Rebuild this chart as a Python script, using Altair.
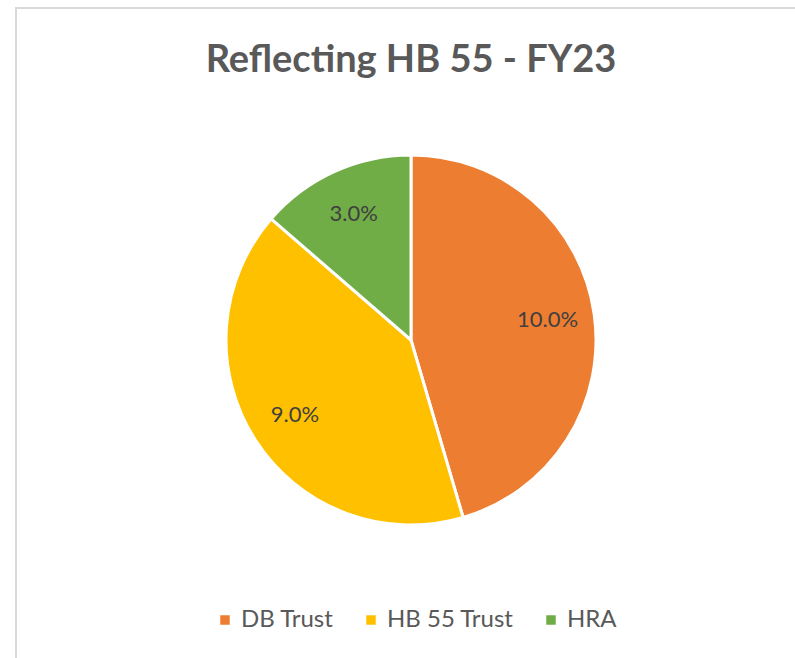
import altair as alt
import pandas as pd

categories = ["DB Trust", "HB 55 Trust", "HRA"]
values = [10.0, 9.0, 3.0]
labels = ["10.0%", "9.0%", "3.0%"]
colors = ["#ED7D31", "#FFC000", "#70AD47"]
title_text = "Reflecting HB 55 - FY23"

df = pd.DataFrame({
    "category": categories,
    "value": values,
    "label": labels,
    "order": list(range(len(categories))),
})

cx, cy = 411, 340

base = alt.Chart(df).encode(
    theta=alt.Theta("value:Q", stack=True),
    order=alt.Order("order:Q"),
    x=alt.value(cx),
    y=alt.value(cy),
)

arcs = base.mark_arc(outerRadius=185, stroke="white", strokeWidth=3).encode(
    color=alt.Color(
        "category:N",
        scale=alt.Scale(domain=categories, range=colors),
        sort=categories,
        legend=alt.Legend(
            title=None,
            orient="none",
            legendX=213,
            legendY=608,
            direction="horizontal",
            symbolType="square",
            symbolSize=90,
            symbolStrokeWidth=0,
            labelFont="Lato",
            labelFontSize=24,
            labelColor="#595959",
            labelOffset=4,
            columnPadding=25,
        ),
    )
)

text = base.mark_text(radius=138, font="Lato", fontSize=22, color="#404040").encode(
    text="label:N"
)

frame = alt.Chart(pd.DataFrame({"a": [0]})).mark_rect(
    fill="white", stroke="#d9d9d9", strokeWidth=2
).encode(
    x=alt.value(16), y=alt.value(8), x2=alt.value(820), y2=alt.value(680)
)

title = alt.Chart(pd.DataFrame({"t": [title_text]})).mark_text(
    font="Lato", fontSize=38, fontWeight="bold", color="#595959", baseline="middle"
).encode(text="t:N", x=alt.value(411), y=alt.value(61))

chart = alt.layer(frame, title, arcs, text).properties(
    width=795, height=658, autosize="none", padding=0
).configure_view(stroke=None)

chart.save("out.html", embed_options={"renderer": "svg", "actions": False})
